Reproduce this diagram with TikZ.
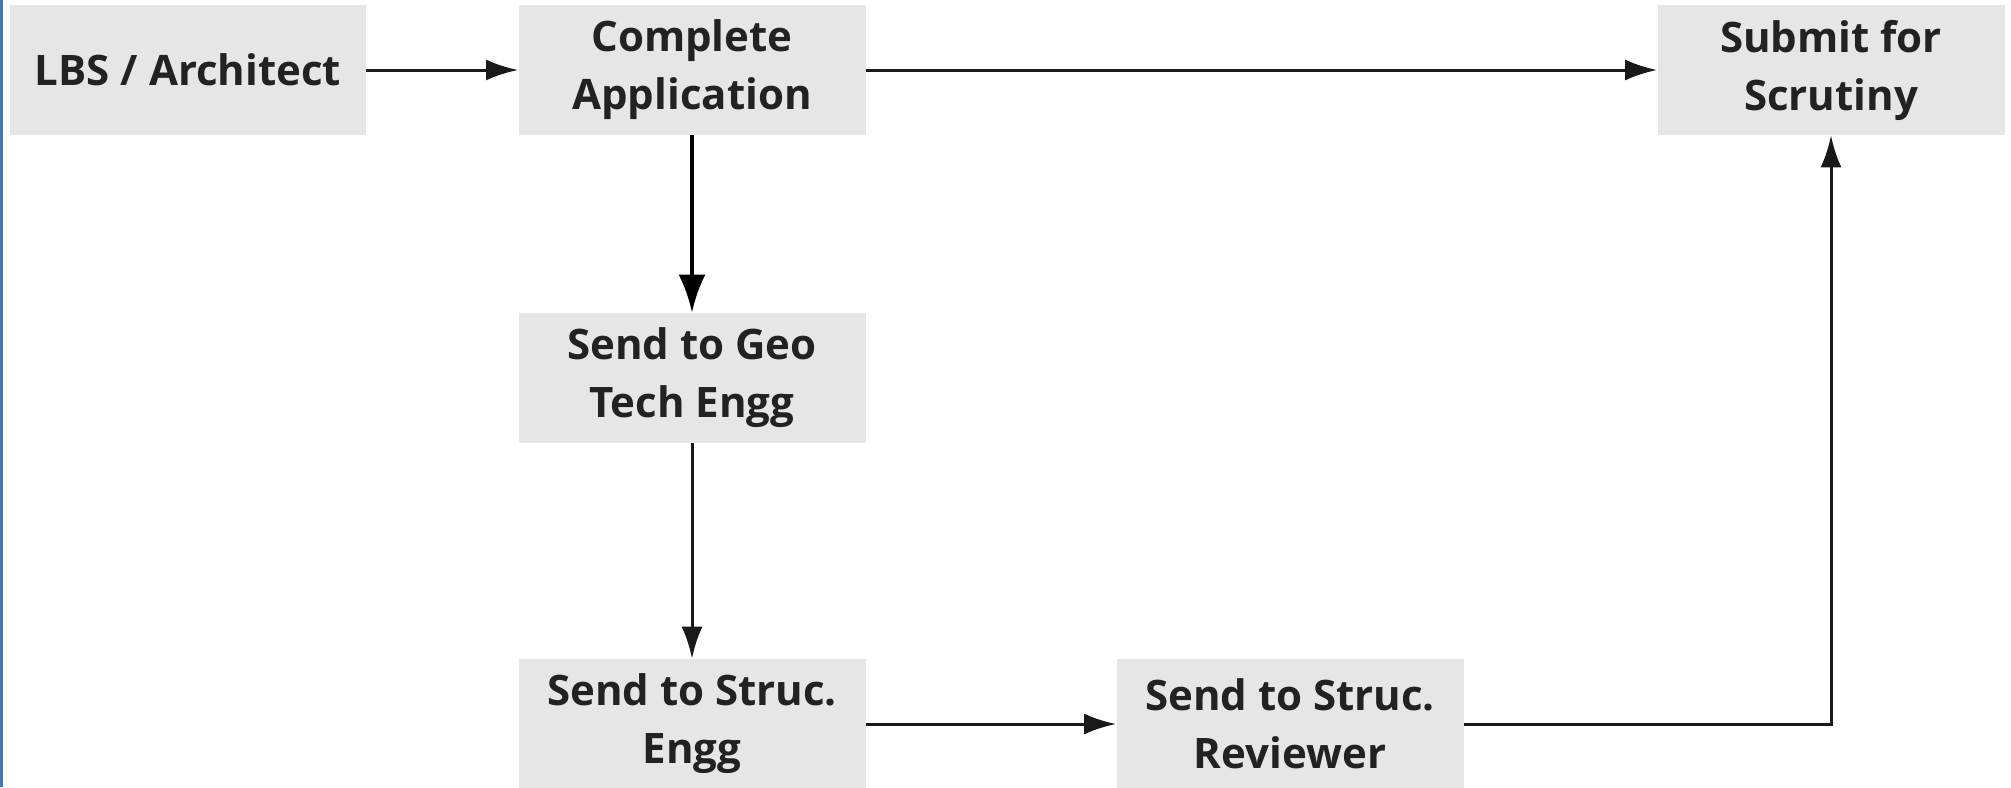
\documentclass[tikz,border=0pt]{standalone}
\usepackage{fontspec}
\setmainfont{Open Sans}
\usepackage{xcolor}
\usepackage{tikz}
\usetikzlibrary{arrows.meta}

\definecolor{boxgray}{HTML}{E6E6E6}
\definecolor{textdark}{HTML}{222222}
\definecolor{edgeblue}{HTML}{4A74B8}

\tikzset{
  stepbox/.style={fill=boxgray, text=textdark, font=\bfseries\fontsize{21}{29}\selectfont,
    align=center, minimum width=173.5pt, minimum height=65pt, inner sep=0pt},
  flow/.style={-{Latex[length=16pt,width=10.5pt]}, line width=1.5pt, draw=black!90},
  thickflow/.style={-{Latex[length=19pt,width=13.5pt]}, line width=2pt, draw=black}
}

\begin{document}
\begin{tikzpicture}[x=0.5pt, y=-0.5pt]
  \useasboundingbox (0,0) rectangle (2011,787);
  \fill[edgeblue] (0,0) rectangle (3,787);
  \node[stepbox, minimum width=178pt] (lbs) at (188,70) {LBS / Architect};
  \node[stepbox] (app) at (692,70) {Complete\\Application};
  \node[stepbox] (submit) at (1831,70) {Submit for\\Scrutiny};
  \node[stepbox] (geo) at (692,378) {Send to Geo\\Tech Engg};
  \node[stepbox] (engg) at (692,724) {Send to Struc.\\Engg};
  \node[stepbox] (rev) at (1290,724) {Send to Struc.\\Reviewer};
  \draw[flow] (lbs) -- (app);
  \draw[flow] (app) -- (submit);
  \draw[thickflow] (app) -- (geo);
  \draw[flow] (geo) -- (engg);
  \draw[flow] (engg) -- (rev);
  \draw[flow] (rev.east) -| (submit.south);
\end{tikzpicture}
\end{document}
